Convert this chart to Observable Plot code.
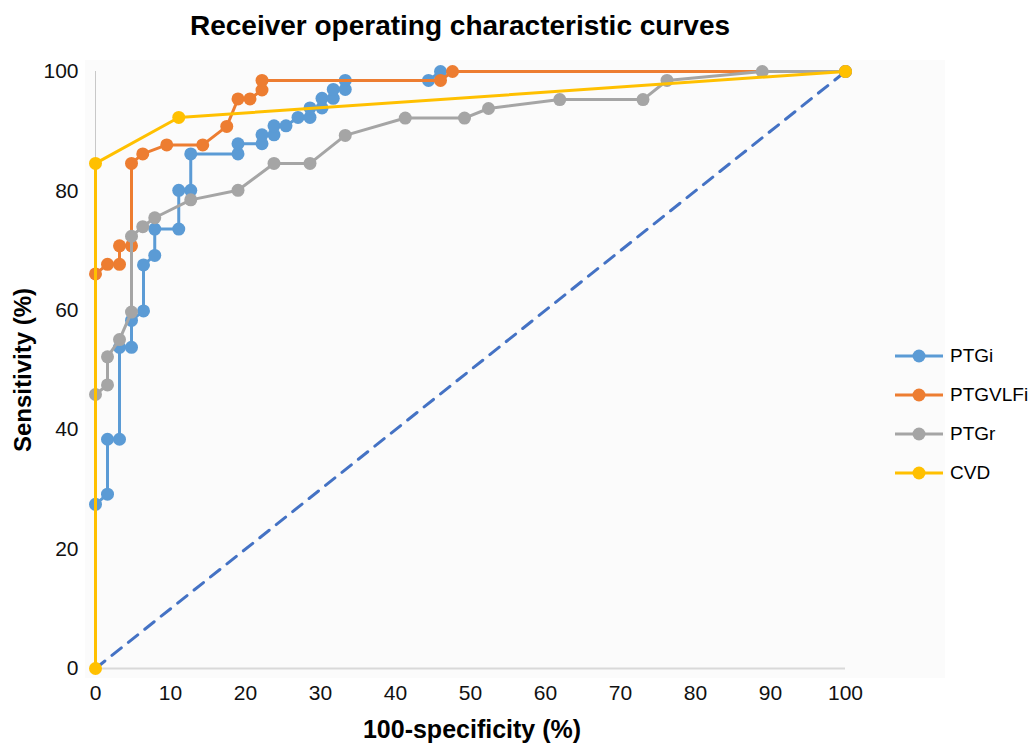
<!DOCTYPE html>
<html>
<head>
<meta charset="utf-8">
<script src="https://cdn.jsdelivr.net/npm/d3@7"></script>
<script src="https://cdn.jsdelivr.net/npm/@observablehq/plot@0.6"></script>
<style>
  html, body { margin: 0; padding: 0; background: #fff; }
  #wrap { position: relative; width: 1031px; height: 748px; overflow: hidden; font-family: "Liberation Sans", Arial, sans-serif; color: #000; }
  #title { height: 50px; position: relative; }
  #title span { position: absolute; left: 460px; top: 12px; transform: translateX(-50%); white-space: nowrap; font-weight: bold; font-size: 28px; line-height: 1; }
  #bg { position: absolute; left: 85px; top: 60px; width: 860px; height: 618px; background: #fbfbfb; }
  #chart { position: relative; }
  #xtitle { position: absolute; left: 472px; top: 716px; transform: translateX(-50%); white-space: nowrap; font-weight: bold; font-size: 25px; line-height: 1.1; }
  #ytitle { position: absolute; left: 23px; top: 370px; transform: translate(-50%, -50%) rotate(-90deg); white-space: nowrap; font-weight: bold; font-size: 24px; line-height: 1; }
  #legend { position: absolute; left: 895px; top: 336px; }
  .item { height: 39px; display: flex; align-items: center; }
  .item svg { display: block; margin-right: 7px; }
  .item span { font-size: 19px; white-space: nowrap; }
</style>
</head>
<body>
<div id="wrap">
  <div id="bg"></div>
  <div id="title"><span>Receiver operating characteristic curves</span></div>
  <div id="chart"></div>
  <div id="xtitle">100-specificity (%)</div>
  <div id="ytitle">Sensitivity (%)</div>
  <div id="legend"></div>
</div>
<script>
// ---- Data ----
const seriesNames = ["PTGi", "PTGVLFi", "PTGr", "CVD"];
const seriesColors = ["#5B9BD5", "#ED7D31", "#A5A5A5", "#FFC000"];

const ptgiX = [0, 1.6, 1.6, 3.2, 3.2, 4.8, 4.8, 6.4, 6.4, 7.9, 7.9, 11.1, 11.1, 12.7, 12.7, 19.0, 19.0, 22.2, 22.2, 23.8, 23.8, 25.4, 27.0, 28.6, 28.6, 30.2, 30.2, 31.7, 31.7, 33.3, 33.3, 44.4, 46.0, 100];
const ptgiY = [27.5, 29.2, 38.4, 38.4, 53.8, 53.8, 58.3, 59.9, 67.6, 69.2, 73.6, 73.6, 80.1, 80.1, 86.2, 86.2, 87.9, 87.9, 89.4, 89.4, 90.9, 90.9, 92.3, 92.3, 93.9, 93.9, 95.5, 95.5, 97.0, 97.0, 98.5, 98.5, 100, 100];

const ptgvlfiX = [0, 1.6, 3.2, 3.2, 4.8, 4.8, 6.3, 9.5, 14.3, 17.5, 19.0, 20.6, 22.2, 22.2, 46.0, 47.6, 100];
const ptgvlfiY = [66.1, 67.7, 67.7, 70.8, 70.8, 84.6, 86.2, 87.7, 87.7, 90.8, 95.4, 95.4, 96.9, 98.5, 98.5, 100, 100];

const ptgrX = [0, 1.6, 1.6, 3.2, 4.8, 4.8, 6.3, 7.9, 12.7, 19.0, 23.8, 28.6, 33.3, 41.3, 49.2, 52.4, 61.9, 73.0, 76.2, 88.9, 100];
const ptgrY = [45.9, 47.5, 52.2, 55.1, 59.7, 72.4, 74.0, 75.5, 78.5, 80.1, 84.6, 84.6, 89.3, 92.2, 92.2, 93.8, 95.3, 95.3, 98.5, 100, 100];

const cvdX = [0, 0, 11.1, 100];
const cvdY = [0, 84.6, 92.3, 100];

const diagX = [0, 100];
const diagY = [0, 100];

const xTicks = [0, 10, 20, 30, 40, 50, 60, 70, 80, 90, 100];
const yTicks = [0, 20, 40, 60, 80, 100];

// ---- Build tables ----
const toRows = (xs, ys) => xs.map((x, i) => ({x, y: ys[i]}));
const series = [
  toRows(ptgiX, ptgiY),
  toRows(ptgvlfiX, ptgvlfiY),
  toRows(ptgrX, ptgrY),
  toRows(cvdX, cvdY)
];
const diag = toRows(diagX, diagY);

const marks = [
  Plot.ruleY([0], {stroke: "#d9d9d9", strokeWidth: 2}),
  Plot.ruleX([0], {stroke: "#c8c8c8", strokeWidth: 1}),
  Plot.line(diag, {x: "x", y: "y", stroke: "#4472C4", strokeWidth: 3, strokeDasharray: "12,9"}),
  Plot.axisX({ticks: xTicks, tickSize: 0, tickPadding: 17, tickFormat: d => String(d), label: null, fontSize: 21, fill: "#111"}),
  Plot.axisY({ticks: yTicks, tickSize: 0, tickPadding: 17, tickFormat: d => String(d), label: null, fontSize: 21, fill: "#111"})
];
series.forEach((rows, i) => {
  marks.push(Plot.line(rows, {x: "x", y: "y", stroke: seriesColors[i], strokeWidth: 3}));
  marks.push(Plot.dot(rows, {x: "x", y: "y", fill: seriesColors[i], r: 6.5}));
});

const chart = Plot.plot({
  width: 1031,
  height: 698,
  marginLeft: 95,
  marginRight: 186,
  marginTop: 21,
  marginBottom: 80,
  x: {domain: [0, 100]},
  y: {domain: [0, 100]},
  style: {background: "transparent", fontFamily: "'Liberation Sans', Arial, sans-serif", fontSize: "21px", color: "#111"},
  marks
});
document.getElementById("chart").appendChild(chart);

// ---- Legend ----
const legend = d3.select("#legend");
seriesNames.forEach((name, i) => {
  const item = legend.append("div").attr("class", "item");
  const svg = item.append("svg").attr("width", 48).attr("height", 16);
  svg.append("line").attr("x1", 0).attr("x2", 48).attr("y1", 8).attr("y2", 8)
    .attr("stroke", seriesColors[i]).attr("stroke-width", 3);
  svg.append("circle").attr("cx", 24).attr("cy", 8).attr("r", 6.5).attr("fill", seriesColors[i]);
  item.append("span").text(name);
});
</script>
</body>
</html>
